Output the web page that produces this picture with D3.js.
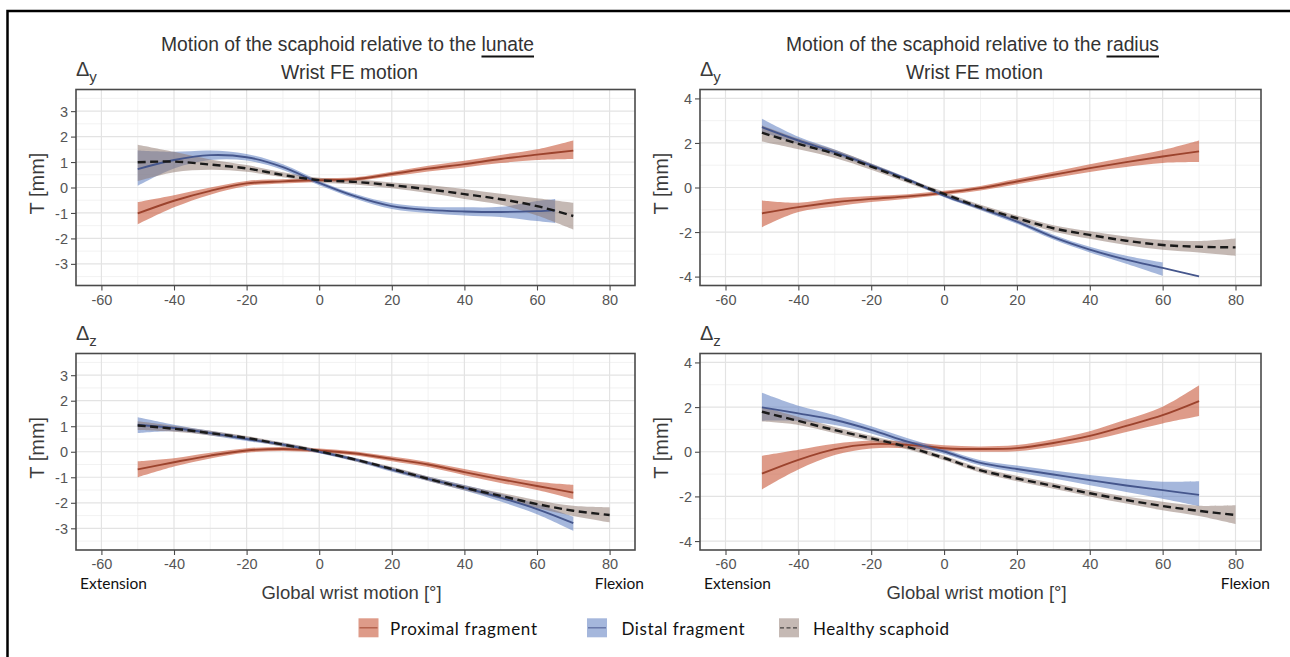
<!DOCTYPE html>
<html><head><meta charset="utf-8">
<script src="https://cdn.jsdelivr.net/npm/d3@7"></script>
<style>
html,body{margin:0;padding:0;background:#fff;}
svg{display:block;}
</style></head>
<body>
<svg id="chart" width="1290" height="657"></svg>
<script>
// ---------------- DATA ----------------
const xTicks = [-60,-40,-20,0,20,40,60,80];
const xMinor = [-50,-30,-10,10,30,50,70];
const yTicksLunate = [-3,-2,-1,0,1,2,3];
const yMinorLunate = [-3.5,-2.5,-1.5,-0.5,0.5,1.5,2.5,3.5];
const yTicksRadius = [-4,-2,0,2,4];
const yMinorRadius = [-3,-1,1,3];

const seriesNames = ["Proximal fragment","Distal fragment","Healthy scaphoid"];
const titles = ["Motion of the scaphoid relative to the ", "Motion of the scaphoid relative to the "];
const titleRefs = ["lunate","radius"];
const subTitle = "Wrist FE motion";
const xLabel = "Global wrist motion [°]";
const yLabel = "T [mm]";

const xs = [-50,-40,-30,-20,-10,0,10,20,30,40,50,60,70];
const xsHealthy = [-50,-40,-30,-20,-10,0,10,20,30,40,50,60,70,80];
const xsDistalA = [-50,-40,-30,-20,-10,0,10,20,30,40,50,60,65];

// Panel A: lunate, Δy
const proxA_mean = [-1.02,-0.52,-0.13,0.16,0.24,0.29,0.33,0.53,0.74,0.92,1.12,1.29,1.45];
const proxA_lo   = [-1.45,-0.78,-0.28,0.06,0.16,0.22,0.26,0.44,0.63,0.79,0.96,1.08,1.12];
const proxA_hi   = [-0.57,-0.30,0.00,0.26,0.32,0.36,0.40,0.62,0.85,1.05,1.28,1.50,1.85];
const distA_mean = [0.72,1.08,1.27,1.19,0.80,0.18,-0.35,-0.73,-0.88,-0.94,-0.96,-0.93,-0.90];
const distA_lo   = [0.07,0.75,1.08,1.06,0.69,0.09,-0.44,-0.84,-1.00,-1.10,-1.16,-1.32,-1.40];
const distA_hi   = [1.45,1.40,1.45,1.32,0.91,0.27,-0.26,-0.62,-0.76,-0.78,-0.76,-0.53,-0.45];
const healA_mean = [0.99,1.02,0.90,0.75,0.49,0.29,0.22,0.09,-0.07,-0.26,-0.46,-0.73,-1.12];
const healA_lo   = [0.25,0.60,0.70,0.62,0.40,0.20,0.12,-0.03,-0.22,-0.45,-0.68,-1.10,-1.65];
const healA_hi   = [1.68,1.40,1.10,0.88,0.60,0.38,0.32,0.20,0.10,-0.06,-0.25,-0.42,-0.60];

// Panel B: radius, Δy
const proxB_mean = [-1.16,-0.88,-0.66,-0.51,-0.40,-0.24,-0.03,0.27,0.57,0.87,1.14,1.39,1.62];
const proxB_lo   = [-1.78,-1.10,-0.85,-0.65,-0.50,-0.33,-0.13,0.15,0.43,0.70,0.92,1.10,1.14];
const proxB_hi   = [-0.58,-0.68,-0.48,-0.38,-0.30,-0.15,0.07,0.39,0.71,1.04,1.36,1.68,2.11];
const distB_mean = [2.71,2.11,1.59,0.99,0.36,-0.36,-0.93,-1.53,-2.23,-2.79,-3.24,-3.61,-3.99];
const distB_lo   = [2.49,1.95,1.47,0.90,0.28,-0.44,-1.02,-1.63,-2.34,-2.92,-3.42,-3.96,null];
const distB_hi   = [3.09,2.28,1.71,1.08,0.44,-0.28,-0.84,-1.43,-2.12,-2.66,-3.06,-3.36,null];
const healB_mean = [2.46,1.96,1.51,0.94,0.31,-0.29,-0.89,-1.38,-1.83,-2.13,-2.39,-2.58,-2.66,-2.69];
const healB_lo   = [2.07,1.72,1.33,0.80,0.20,-0.39,-1.00,-1.50,-1.97,-2.30,-2.58,-2.80,-2.92,-3.07];
const healB_hi   = [2.79,2.20,1.69,1.08,0.42,-0.19,-0.78,-1.26,-1.69,-1.96,-2.20,-2.36,-2.40,-2.29];

// Panel C: lunate, Δz
const proxC_mean = [-0.69,-0.41,-0.15,0.05,0.11,0.05,-0.07,-0.28,-0.50,-0.80,-1.08,-1.34,-1.60];
const proxC_lo   = [-1.00,-0.58,-0.26,-0.04,0.03,-0.03,-0.15,-0.37,-0.60,-0.92,-1.22,-1.50,-1.86];
const proxC_hi   = [-0.37,-0.25,-0.04,0.14,0.19,0.13,0.01,-0.19,-0.40,-0.68,-0.94,-1.18,-1.30];
const distC_mean = [1.06,0.93,0.73,0.50,0.28,0.00,-0.31,-0.70,-1.06,-1.41,-1.80,-2.25,-2.80];
const distC_lo   = [0.73,0.80,0.64,0.42,0.21,-0.06,-0.38,-0.78,-1.15,-1.52,-1.95,-2.45,-3.10];
const distC_hi   = [1.35,1.06,0.82,0.58,0.35,0.06,-0.24,-0.62,-0.97,-1.30,-1.65,-2.05,-2.55];
const healC_mean = [1.03,0.90,0.73,0.54,0.28,0.02,-0.31,-0.67,-1.06,-1.41,-1.73,-2.05,-2.31,-2.48];
const healC_lo   = [0.85,0.78,0.64,0.46,0.20,-0.05,-0.38,-0.75,-1.15,-1.51,-1.85,-2.20,-2.52,-2.77];
const healC_hi   = [1.20,1.02,0.82,0.62,0.36,0.09,-0.24,-0.59,-0.97,-1.31,-1.61,-1.90,-2.12,-2.18];

// Panel D: radius, Δz
const proxD_mean = [-0.98,-0.36,0.12,0.34,0.31,0.16,0.12,0.16,0.39,0.71,1.16,1.64,2.27];
const proxD_lo   = [-1.69,-0.80,-0.15,0.15,0.16,0.03,0.00,0.02,0.22,0.50,0.88,1.27,1.60];
const proxD_hi   = [-0.18,0.09,0.36,0.50,0.46,0.29,0.24,0.30,0.56,0.92,1.44,2.02,2.98];
const distD_mean = [1.99,1.72,1.42,0.98,0.45,0.01,-0.50,-0.77,-1.02,-1.27,-1.51,-1.72,-1.93];
const distD_lo   = [1.39,1.38,1.20,0.82,0.32,-0.10,-0.62,-0.92,-1.20,-1.50,-1.80,-2.10,-2.43];
const distD_hi   = [2.64,2.06,1.64,1.14,0.60,0.12,-0.38,-0.62,-0.84,-1.04,-1.22,-1.34,-1.32];
const healD_mean = [1.79,1.38,0.97,0.60,0.21,-0.28,-0.83,-1.20,-1.53,-1.86,-2.16,-2.43,-2.65,-2.83];
const healD_lo   = [1.35,1.20,0.83,0.48,0.10,-0.38,-0.94,-1.32,-1.66,-2.00,-2.32,-2.62,-2.88,-3.24];
const healD_hi   = [2.00,1.56,1.11,0.72,0.32,-0.18,-0.72,-1.08,-1.40,-1.72,-2.00,-2.24,-2.42,-2.40];

// ---------------- STYLE ----------------
const ribbonFill = ["#c8583a","#5b7bbf","#8c736a"];
const ribbonOpacity = [0.6,0.55,0.5];
const lineColor = ["#9c432d","#45568c","#1a1a1a"];
const dashes = [null,null,"8,4.5"];

const svg = d3.select("#chart");
// outer frame
svg.append("rect").attr("x",7.5).attr("y",11).attr("width",1400).attr("height",800)
  .attr("fill","none").attr("stroke","#000").attr("stroke-width",2.5);

const colX = [[76,635],[700,1261]];
const rowY = [[285.5,89.5],[550,353.5]];
const xDomain = [-67,87];

function zipS(x, m, lo, hi){ return x.map((v,i)=>({x:v,m:m[i],lo:lo[i],hi:hi[i]})); }

const panels = [
 {col:0,row:0,ydom:[-3.85,3.85],yt:yTicksLunate,ym:yMinorLunate,delta:"y",
  series:[zipS(xs,proxA_mean,proxA_lo,proxA_hi),zipS(xsDistalA,distA_mean,distA_lo,distA_hi),zipS(xs,healA_mean,healA_lo,healA_hi)]},
 {col:1,row:0,ydom:[-4.4,4.4],yt:yTicksRadius,ym:yMinorRadius,delta:"y",
  series:[zipS(xs,proxB_mean,proxB_lo,proxB_hi),zipS(xs,distB_mean,distB_lo,distB_hi),zipS(xsHealthy,healB_mean,healB_lo,healB_hi)]},
 {col:0,row:1,ydom:[-3.85,3.85],yt:yTicksLunate,ym:yMinorLunate,delta:"z",
  series:[zipS(xs,proxC_mean,proxC_lo,proxC_hi),zipS(xs,distC_mean,distC_lo,distC_hi),zipS(xsHealthy,healC_mean,healC_lo,healC_hi)]},
 {col:1,row:1,ydom:[-4.4,4.4],yt:yTicksRadius,ym:yMinorRadius,delta:"z",
  series:[zipS(xs,proxD_mean,proxD_lo,proxD_hi),zipS(xs,distD_mean,distD_lo,distD_hi),zipS(xsHealthy,healD_mean,healD_lo,healD_hi)]},
];

const curve = d3.curveCatmullRom.alpha(0.5);
const sans = "'Liberation Sans', Arial, sans-serif";
const calib = "Lato, 'Open Sans', sans-serif";
const fmt = d => String(d);

panels.forEach(p=>{
  const x = d3.scaleLinear().domain(xDomain).range(colX[p.col]);
  const y = d3.scaleLinear().domain(p.ydom).range(rowY[p.row]);
  const g = svg.append("g");
  const [x0,x1] = x.range(), [y0,y1] = y.range();
  const clipId = "clip"+p.col+p.row;
  svg.append("clipPath").attr("id",clipId).append("rect")
    .attr("x",x0).attr("y",y1).attr("width",x1-x0).attr("height",y0-y1);
  // grid
  g.selectAll(".vmin").data(xMinor).join("line")
    .attr("x1",d=>x(d)).attr("x2",d=>x(d)).attr("y1",y0).attr("y2",y1)
    .attr("stroke","#efefef").attr("stroke-width",0.8);
  g.selectAll(".hmin").data(p.ym).join("line")
    .attr("x1",x0).attr("x2",x1).attr("y1",d=>y(d)).attr("y2",d=>y(d))
    .attr("stroke","#efefef").attr("stroke-width",0.8);
  g.selectAll(".vmaj").data(xTicks).join("line")
    .attr("x1",d=>x(d)).attr("x2",d=>x(d)).attr("y1",y0).attr("y2",y1)
    .attr("stroke","#e3e3e3").attr("stroke-width",1.2);
  g.selectAll(".hmaj").data(p.yt).join("line")
    .attr("x1",x0).attr("x2",x1).attr("y1",d=>y(d)).attr("y2",d=>y(d))
    .attr("stroke","#e3e3e3").attr("stroke-width",1.2);

  const dg = g.append("g").attr("clip-path",`url(#${clipId})`);
  // ribbons
  p.series.forEach((s,i)=>{
    const area = d3.area().defined(d=>d.lo!=null && d.hi!=null)
      .x(d=>x(d.x)).y0(d=>y(d.lo)).y1(d=>y(d.hi)).curve(curve);
    dg.append("path").datum(s).attr("d",area)
      .attr("fill",ribbonFill[i]).attr("fill-opacity",ribbonOpacity[i]);
  });
  // lines
  p.series.forEach((s,i)=>{
    const line = d3.line().x(d=>x(d.x)).y(d=>y(d.m)).curve(curve);
    const path = dg.append("path").datum(s).attr("d",line)
      .attr("fill","none").attr("stroke",lineColor[i])
      .attr("stroke-width", i==2?2.4:1.9);
    if(dashes[i]) path.attr("stroke-dasharray",dashes[i]);
  });

  // border
  g.append("rect").attr("x",x0).attr("y",y1).attr("width",x1-x0).attr("height",y0-y1)
    .attr("fill","none").attr("stroke","#4a4a4a").attr("stroke-width",1.6);

  // axes
  const xAxis = d3.axisBottom(x).tickValues(xTicks).tickSize(5).tickPadding(4).tickFormat(fmt);
  const ax = g.append("g").attr("transform",`translate(0,${y0})`).call(xAxis);
  const yAxis = d3.axisLeft(y).tickValues(p.yt).tickSize(5).tickPadding(3).tickFormat(fmt);
  const ay = g.append("g").attr("transform",`translate(${x0},0)`).call(yAxis);
  [ax,ay].forEach(a=>{
    a.select(".domain").remove();
    a.selectAll(".tick line").attr("stroke","#4a4a4a").attr("stroke-width",1.1);
    a.selectAll(".tick text").attr("fill","#555").style("font-family",sans).style("font-size","14.5px");
  });
  ay.selectAll(".tick text").attr("dy","0.35em");

  // y label
  const cy = (y0+y1)/2 - 4;
  g.append("text").attr("transform",`translate(${x0-32},${cy}) rotate(-90)`)
    .attr("text-anchor","middle").attr("fill","#3a3a3a")
    .style("font-family",sans).style("font-size","20px").text(yLabel);

  // delta label
  const dt = g.append("text").attr("x",x0).attr("y",y1-14).attr("fill","#3a3a3a")
    .style("font-family",sans).style("font-size","20px");
  dt.append("tspan").text("Δ");
  dt.append("tspan").attr("dy",6).style("font-size","15px").text(p.delta);

  if(p.row===1){
    g.append("text").attr("x",(x0+x1)/2-4).attr("y",599).attr("text-anchor","middle")
      .attr("fill","#3a3a3a").style("font-family",sans).style("font-size","18.5px").text(xLabel);
    g.append("text").attr("x",x0+4).attr("y",588.5).attr("fill","#111")
      .attr("textLength",67)
      .style("font-family",calib).style("font-size","15.5px").text("Extension");
    g.append("text").attr("x",x1+9).attr("y",588.5).attr("text-anchor","end").attr("fill","#111")
      .style("font-family",calib).style("font-size","15.5px").text("Flexion");
  } else {
    const cx = (x0+x1)/2 - 8;
    const t = g.append("text").attr("x",cx).attr("y",51).attr("text-anchor","middle")
      .attr("fill","#333").style("font-family",sans).style("font-size","19.3px");
    t.append("tspan").text(titles[p.col]);
    t.append("tspan").text(titleRefs[p.col]);
    const node = t.node();
    const n1 = titles[p.col].length, n2 = titleRefs[p.col].length;
    const sx = node.getStartPositionOfChar(n1).x;
    const ex = node.getEndPositionOfChar(n1+n2-1).x;
    g.append("line").attr("x1",sx).attr("x2",ex).attr("y1",56.5).attr("y2",56.5)
      .attr("stroke","#111").attr("stroke-width",2.2);
    g.append("text").attr("x",cx+2).attr("y",78.5).attr("text-anchor","middle")
      .attr("fill","#333").style("font-family",sans).style("font-size","19.3px").text(subTitle);
  }
});

// legend
const legendKeyX = [358.5,587,779];
const legendTextX = [390,621.5,813];
const legendTextW = [147,123,136];
const lg = svg.append("g");
seriesNames.forEach((name,i)=>{
  lg.append("rect").attr("x",legendKeyX[i]).attr("y",618.3).attr("width",20).attr("height",19)
    .attr("fill",ribbonFill[i]).attr("fill-opacity",ribbonOpacity[i]);
  const l = lg.append("line").attr("x1",legendKeyX[i]+1).attr("x2",legendKeyX[i]+19)
    .attr("y1",627.8).attr("y2",627.8).attr("stroke",lineColor[i]).attr("stroke-opacity",0.75)
    .attr("stroke-width",1.3);
  if(dashes[i]) l.attr("stroke-dasharray","4,2.5");
  lg.append("text").attr("x",legendTextX[i]).attr("y",634.5).attr("fill","#111")
    .attr("textLength",legendTextW[i])
    .style("font-family",calib).style("font-size","17px").text(name);
});
</script>
</body></html>
